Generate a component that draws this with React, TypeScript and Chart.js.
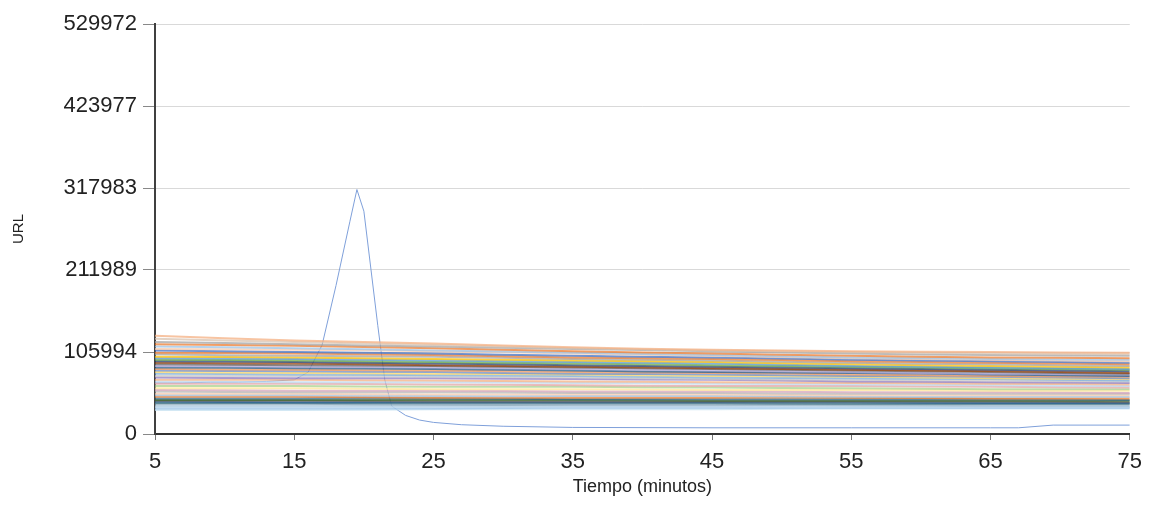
import React, { useEffect, useRef } from "react";
import { Chart, registerables } from "chart.js";

Chart.register(...registerables);

// ---- Data ----
const X_TICKS = [5, 15, 25, 35, 45, 55, 65, 75];
const Y_TICKS = [0, 105994, 211989, 317983, 423977, 529972];
const Y_MAX = 529972;

// Bundle series sampled at the X_TICKS minutes
const S01 = [127000, 121000, 117000, 112000, 109000, 107000, 106000, 105000];
const S02 = [123000, 119000, 115000, 111000, 108000, 106000, 104000, 103000];
const S03 = [119000, 116000, 113000, 110000, 107000, 104000, 102000, 101000];
const S04 = [116000, 114000, 111000, 107000, 104000, 101000, 99000, 98000];
const S05 = [113000, 111000, 108000, 105000, 102000, 99000, 97000, 96000];
const S06 = [110000, 109000, 107000, 104000, 101000, 98000, 96000, 94000];
const S07 = [108000, 106000, 104000, 101000, 99000, 96000, 94000, 92000];
const S08 = [105000, 104000, 102000, 99000, 97000, 94000, 92000, 90000];
const S09 = [103000, 101000, 100000, 97000, 95000, 92000, 90000, 88000];
const S10 = [100000, 99000, 97000, 95000, 93000, 90000, 88000, 86000];
const S11 = [98000, 97000, 95000, 93000, 91000, 88000, 86000, 84000];
const S12 = [96000, 95000, 93000, 91000, 89000, 87000, 85000, 83000];
const S13 = [94000, 93000, 91000, 89000, 87000, 85000, 83000, 81000];
const S14 = [92000, 91000, 89000, 87000, 85000, 83000, 81000, 79000];
const S15 = [90000, 89000, 88000, 86000, 84000, 82000, 80000, 78000];
const S16 = [88000, 87000, 86000, 84000, 82000, 80000, 78000, 77000];
const S17 = [86000, 85000, 84000, 82000, 80000, 79000, 77000, 75000];
const S18 = [84000, 83000, 82000, 80000, 79000, 77000, 75000, 74000];
const S19 = [82000, 81000, 80000, 78000, 77000, 75000, 74000, 72000];
const S20 = [80000, 79000, 78000, 77000, 75000, 74000, 72000, 71000];
const S21 = [78000, 77000, 76000, 75000, 73000, 72000, 71000, 69000];
const S22 = [75000, 75000, 74000, 73000, 71000, 70000, 69000, 68000];
const S23 = [73000, 72000, 72000, 71000, 70000, 68000, 67000, 66000];
const S24 = [70000, 70000, 69000, 68000, 67000, 66000, 65000, 64000];
const S25 = [68000, 67000, 67000, 66000, 65000, 64000, 63000, 62000];
const S26 = [65000, 65000, 64000, 63000, 62000, 62000, 61000, 60000];
const S27 = [62000, 62000, 61000, 61000, 60000, 59000, 58000, 58000];
const S28 = [59000, 59000, 58000, 58000, 57000, 57000, 56000, 56000];
const S29 = [57000, 56000, 56000, 55000, 55000, 54000, 54000, 53000];
const S30 = [55000, 54000, 54000, 53000, 53000, 52000, 52000, 52000];
const S31 = [52000, 52000, 51000, 51000, 51000, 50000, 50000, 50000];
const S32 = [50000, 50000, 49000, 49000, 49000, 48000, 48000, 48000];
const S33 = [48000, 48000, 47000, 47000, 47000, 47000, 46000, 46000];
const S34 = [46000, 46000, 46000, 45000, 45000, 45000, 45000, 44000];
const S35 = [44000, 44000, 44000, 44000, 43000, 43000, 43000, 43000];
const S36 = [43000, 43000, 42000, 42000, 42000, 42000, 42000, 41000];
const S37 = [42000, 41000, 41000, 41000, 41000, 41000, 40000, 40000];
const S38 = [40000, 40000, 40000, 40000, 40000, 39000, 39000, 39000];
const S39 = [39000, 39000, 38000, 38000, 38000, 38000, 38000, 38000];
const S40 = [37000, 37000, 37000, 37000, 37000, 37000, 36000, 36000];
const S41 = [35000, 35000, 35000, 35000, 35000, 35000, 35000, 35000];
const S42 = [33000, 33000, 33000, 34000, 34000, 34000, 34000, 34000];
const S43 = [31000, 31000, 32000, 32000, 32000, 33000, 33000, 33000];

const BUNDLE = [
  S01, S02, S03, S04, S05, S06, S07, S08, S09, S10, S11, S12, S13, S14, S15,
  S16, S17, S18, S19, S20, S21, S22, S23, S24, S25, S26, S27, S28, S29, S30,
  S31, S32, S33, S34, S35, S36, S37, S38, S39, S40, S41, S42, S43,
];

const BUNDLE_COLORS = [
  "#F4B183", "#D9C3B0", "#A5A5A5", "#ED7D31", "#9DC3E6", "#F8CBAD",
  "#4472C4", "#ED7D31", "#A5A5A5", "#FFC000", "#5B9BD5", "#70AD47",
  "#264478", "#9E480E", "#636363", "#B4A7D6", "#255E91", "#F1975A",
  "#698ED0", "#FFD966", "#7CAFDD", "#C9C9C9", "#8E7CC3", "#F4B183",
  "#BDD7EE", "#E2A6A6", "#A9D18E", "#FFE699", "#D5A6BD", "#B7B7B7",
  "#F8CBAD", "#9DC3E6", "#ED7D31", "#336B87", "#43682B", "#636363",
  "#255E91", "#4A7B8C", "#7F9FB0", "#A9C4D8", "#BDD7EE", "#9DC3E6",
  "#C5E0F0",
];

// Spike series (minute, value)
const SPIKE_X = [5, 7, 9, 11, 13, 15, 16, 17, 18, 19, 19.5, 20, 21, 21.5, 22, 23, 24, 25, 27, 30, 35, 45, 55, 65, 67, 69.5, 72, 75];
const SPIKE_Y = [66000, 66000, 67000, 67000, 68000, 70000, 80000, 115000, 192000, 275000, 316000, 288000, 140000, 70000, 36000, 24000, 18000, 15000, 12000, 10000, 8500, 8000, 8000, 8000, 8000, 11500, 11500, 11500];

const FONT = "'Liberation Sans', Arial, sans-serif";

export default function App() {
  const ref = useRef<HTMLCanvasElement | null>(null);

  useEffect(() => {
    if (!ref.current) return;
    const datasets: any[] = BUNDLE.map((arr, i) => ({
      label: "S" + (i + 1),
      data: arr.map((v, j) => ({ x: X_TICKS[j], y: v })),
      borderColor: BUNDLE_COLORS[i % BUNDLE_COLORS.length] + "C0",
      borderWidth: 2,
      pointRadius: 0,
      tension: 0.3,
      fill: false,
    }));
    datasets.push({
      label: "spike",
      data: SPIKE_X.map((x, j) => ({ x, y: SPIKE_Y[j] })),
      borderColor: "#7FA0DA",
      borderWidth: 1,
      pointRadius: 0,
      tension: 0,
      fill: false,
    });

    const chart = new Chart(ref.current, {
      type: "line",
      data: { datasets },
      options: {
        animation: false,
        responsive: false,
        events: [],
        layout: { padding: { top: 24, right: 21, left: 0, bottom: 0 } },
        plugins: { legend: { display: false }, tooltip: { enabled: false } },
        scales: {
          x: {
            type: "linear",
            min: 5,
            max: 75,
            afterBuildTicks: (s: any) => {
              s.ticks = X_TICKS.map((v) => ({ value: v }));
            },
            afterFit: (s: any) => {
              s.height = 74;
            },
            grid: {
              drawOnChartArea: false,
              drawTicks: true,
              tickLength: 6,
              tickColor: "#777",
            },
            border: { display: true, color: "#333", width: 2 },
            ticks: {
              padding: 9,
              color: "#222",
              font: { family: FONT, size: 22 },
              maxRotation: 0,
              callback: (v: any) => String(v),
            },
            title: {
              display: true,
              text: "Tiempo (minutos)",
              color: "#222",
              font: { family: FONT, size: 18 },
              padding: { top: 0, bottom: 10 },
            },
          },
          y: {
            type: "linear",
            min: 0,
            max: Y_MAX,
            afterBuildTicks: (s: any) => {
              s.ticks = Y_TICKS.map((v) => ({ value: v }));
            },
            afterFit: (s: any) => {
              s.width = 155;
            },
            grid: {
              color: "#d9d9d9",
              lineWidth: 1,
              drawTicks: true,
              tickLength: 12,
              tickColor: "#888",
            },
            border: { display: true, color: "#404040", width: 2 },
            ticks: {
              padding: 6,
              color: "#222",
              font: { family: FONT, size: 22 },
              callback: (v: any) => String(v),
            },
            title: {
              display: true,
              text: "URL",
              color: "#222",
              font: { family: FONT, size: 15 },
              padding: { top: 10, bottom: 0 },
            },
          },
        },
      },
    });
    return () => chart.destroy();
  }, []);

  return (
    <div style={{ position: "fixed", left: 0, top: 0, width: 1151, height: 508, background: "#fff" }}>
      <canvas ref={ref} width={1151} height={508} style={{ display: "block" }} />
    </div>
  );
}
